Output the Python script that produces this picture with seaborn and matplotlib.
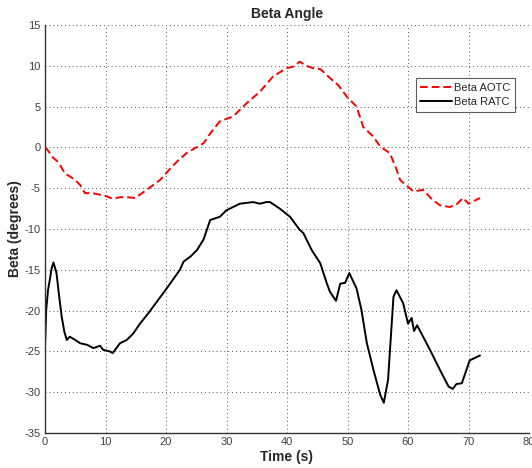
import matplotlib
matplotlib.use("Agg")
import matplotlib.pyplot as plt
import seaborn as sns
import pandas as pd

aotc_t = [0.0, 0.3, 1.4, 2.2, 3.3, 4.2, 5.0, 5.8, 6.6, 7.8, 9.1, 10.2, 11.2, 12.4, 13.5, 14.9,
          16.8, 19.0, 20.7, 22.0, 23.4, 25.0, 26.2, 27.3, 28.9, 31.1, 33.3, 35.5, 37.7, 39.9,
          41.0, 42.1, 43.2, 44.3, 45.5, 47.1, 48.5, 49.9, 51.5, 52.6, 54.3, 55.4, 57.0,
          58.0, 58.7, 60.9, 62.5, 64.0, 65.3, 66.9, 68.0, 69.1, 70.0, 70.8, 71.9]
aotc_v = [0.0, -0.2, -1.3, -1.8, -3.2, -3.6, -4.0, -4.6, -5.6, -5.6, -5.8, -6.0, -6.3, -6.1, -6.1, -6.2,
          -5.2, -4.0, -2.6, -1.6, -0.7, 0.0, 0.5, 1.7, 3.2, 3.8, 5.4, 6.8, 8.7, 9.7,
          9.9, 10.5, 10.0, 9.7, 9.6, 8.5, 7.6, 6.2, 5.0, 2.5, 1.3, 0.1, -0.7,
          -2.5, -4.0, -5.4, -5.2, -6.4, -7.1, -7.3, -7.0, -6.2, -6.9, -6.6, -6.2]

ratc_t = [0.0, 0.2, 0.5, 0.8, 1.1, 1.4, 1.9, 2.3, 2.75, 3.2, 3.6, 4.1, 5.0, 5.8, 7.0, 8.0, 9.1, 9.6,
          10.7, 11.2, 12.4, 13.5, 14.6, 15.7, 17.1, 18.5, 20.1, 22.3, 22.9, 24.0, 25.1, 26.2,
          27.3, 28.9, 30.0, 32.2, 34.4, 35.5, 36.6, 37.2, 38.8, 40.5, 42.1, 42.7, 44.1, 45.5,
          46.6, 47.1, 48.1, 48.8, 49.6, 50.3, 51.5, 52.3, 53.2, 54.3, 55.4, 56.0, 56.7, 57.6,
          58.1, 59.2, 60.0, 60.6, 61.0, 61.5, 62.5, 63.9, 65.3, 66.7, 67.4, 68.0, 68.9, 70.2, 71.9]
ratc_v = [-24.5, -19.9, -17.5, -16.2, -14.8, -14.1, -15.4, -18.0, -20.7, -22.6, -23.6, -23.2, -23.6, -24.0, -24.2, -24.6, -24.3, -24.8,
          -25.0, -25.2, -24.0, -23.6, -22.8, -21.6, -20.3, -18.9, -17.3, -15.0, -14.0, -13.4, -12.6, -11.3,
          -8.9, -8.5, -7.7, -6.9, -6.7, -6.9, -6.7, -6.7, -7.5, -8.5, -10.1, -10.5, -12.6, -14.2,
          -16.7, -17.7, -18.8, -16.7, -16.6, -15.4, -17.3, -19.9, -24.0, -27.3, -30.3, -31.3, -28.5, -18.3,
          -17.5, -19.1, -21.6, -20.9, -22.5, -21.8, -23.2, -25.2, -27.3, -29.3, -29.6, -29.0, -28.9, -26.1, -25.5]

xticks = [0, 10, 20, 30, 40, 50, 60, 70, 80]
yticks = [15, 10, 5, 0, -5, -10, -15, -20, -25, -30, -35]

sns.set_style("white")
plt.rcParams['font.family'] = ['Liberation Sans', 'DejaVu Sans']
plt.rcParams['axes.unicode_minus'] = False

fig = plt.figure(figsize=(5.32, 4.68), dpi=100)
ax = fig.add_axes([45/532, 35/468, 484/532, 408/468])

df_a = pd.DataFrame({"t": aotc_t, "v": aotc_v})
df_r = pd.DataFrame({"t": ratc_t, "v": ratc_v})
sns.lineplot(data=df_a, x="t", y="v", ax=ax, color="#ff0000", linestyle=(0, (4, 2)),
             linewidth=1.4, label="Beta AOTC", estimator=None, sort=False)
sns.lineplot(data=df_r, x="t", y="v", ax=ax, color="black", linewidth=1.4,
             label="Beta RATC", estimator=None, sort=False)

ax.set_xlim(0, 80)
ax.set_ylim(-35, 15)
ax.set_xticks(xticks)
ax.set_yticks(yticks)
ax.grid(True, linestyle=(0, (1, 3)), color="#555555", linewidth=0.7)
for s in ["top", "right"]:
    ax.spines[s].set_visible(False)
for s in ["left", "bottom"]:
    ax.spines[s].set_color("#333333")
    ax.spines[s].set_linewidth(1.0)
ax.tick_params(axis="both", direction="in", length=3, labelsize=8, colors="#404040", pad=3)
ax.set_title("Beta Angle", fontsize=10, fontweight="bold", pad=5)
ax.set_xlabel("Time (s)", fontsize=10, fontweight="bold", labelpad=2)
ax.set_ylabel("Beta (degrees)", fontsize=10, fontweight="bold", labelpad=2)
leg = ax.legend(loc="upper right", bbox_to_anchor=(0.971, 0.869), fontsize=8,
                frameon=True, fancybox=False, handlelength=2.9, borderpad=0.4,
                labelspacing=0.4, handletextpad=0.15, borderaxespad=0)
leg.get_frame().set_edgecolor("#333333")
leg.get_frame().set_linewidth(0.8)

fig.savefig("out.png", dpi=100)
